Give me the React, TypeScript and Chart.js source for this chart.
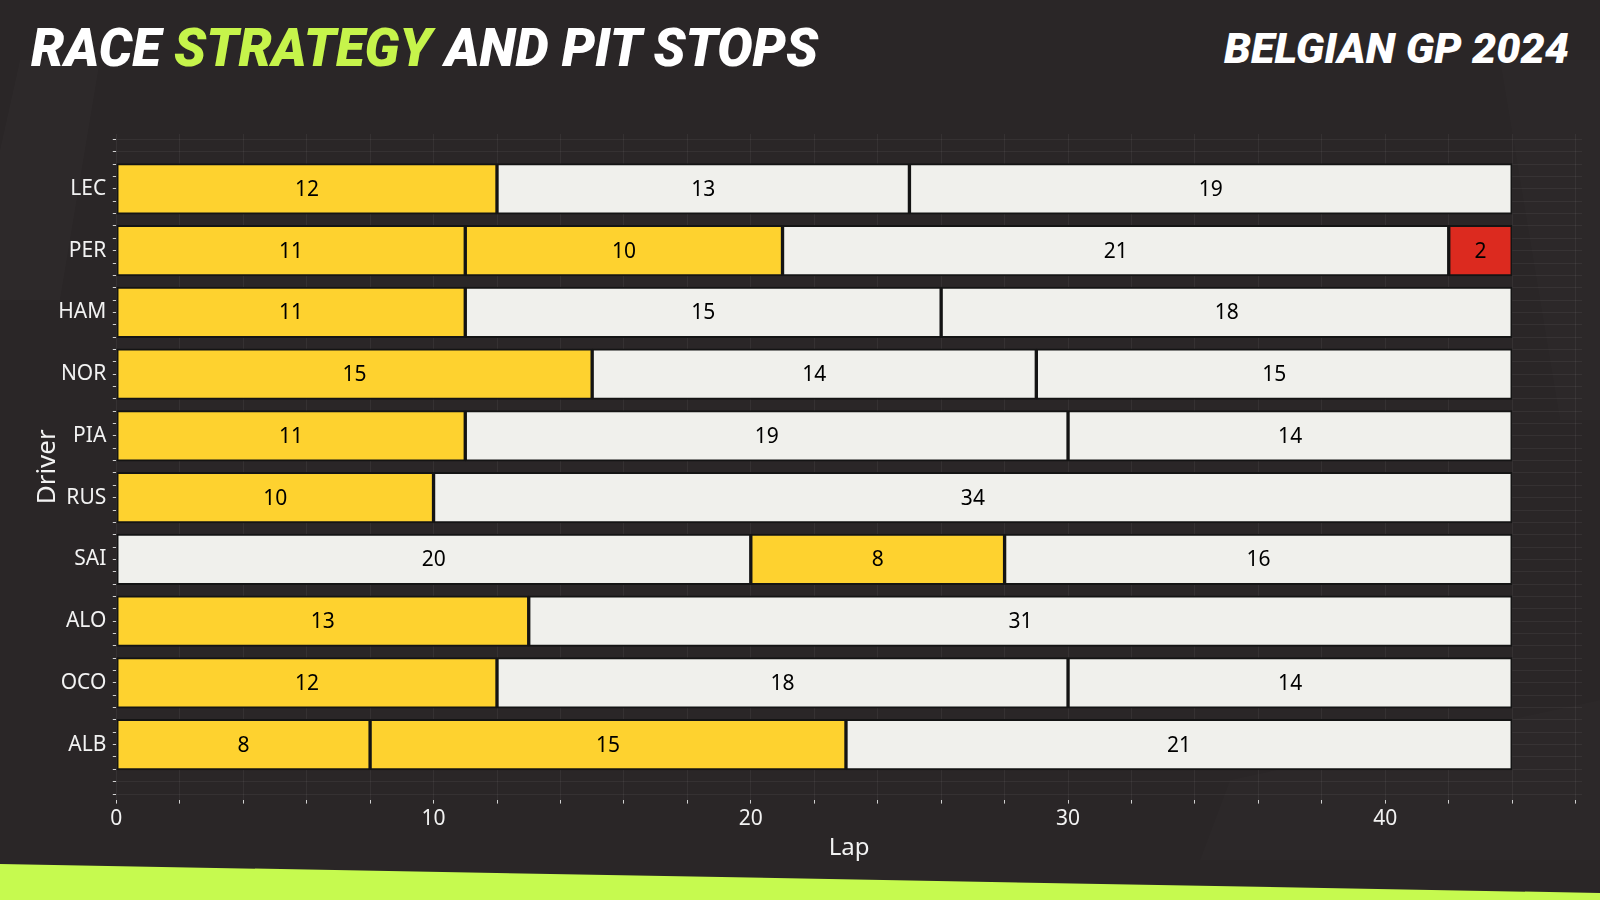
import React, { useEffect, useRef } from "react";
import { Chart, registerables } from "chart.js";

Chart.register(...registerables);

// ---- data ----
const drivers = ["LEC", "PER", "HAM", "NOR", "PIA", "RUS", "SAI", "ALO", "OCO", "ALB"];
const stint1Laps = [12, 11, 11, 15, 11, 10, 20, 13, 12, 8];
const stint1Tyre = ["MEDIUM", "MEDIUM", "MEDIUM", "MEDIUM", "MEDIUM", "MEDIUM", "HARD", "MEDIUM", "MEDIUM", "MEDIUM"];
const stint2Laps = [13, 10, 15, 14, 19, 34, 8, 31, 18, 15];
const stint2Tyre = ["HARD", "MEDIUM", "HARD", "HARD", "HARD", "HARD", "MEDIUM", "HARD", "HARD", "MEDIUM"];
const stint3Laps = [19, 21, 18, 15, 14, null, 16, null, 14, 21];
const stint3Tyre = ["HARD", "HARD", "HARD", "HARD", "HARD", null, "HARD", null, "HARD", "HARD"];
const stint4Laps = [null, 2, null, null, null, null, null, null, null, null];
const stint4Tyre = [null, "SOFT", null, null, null, null, null, null, null, null];
const xMajorTicks = [0, 10, 20, 30, 40];
const yMinorStep = 0.2;

const tyreColors: Record<string, string> = {
  SOFT: "#dc2a1f",
  MEDIUM: "#fed22f",
  HARD: "#f0f0ec",
};

const stints = [
  { laps: stint1Laps, tyres: stint1Tyre },
  { laps: stint2Laps, tyres: stint2Tyre },
  { laps: stint3Laps, tyres: stint3Tyre },
  { laps: stint4Laps, tyres: stint4Tyre },
];

const labelPlugin = {
  id: "stintLabels",
  afterDatasetsDraw(chart: any) {
    const ctx = chart.ctx;
    ctx.save();
    ctx.font = '21px "Noto Sans"';
    ctx.fillStyle = "#000";
    ctx.textAlign = "center";
    ctx.textBaseline = "middle";
    chart.data.datasets.forEach((ds: any, di: number) => {
      const meta = chart.getDatasetMeta(di);
      meta.data.forEach((el: any, j: number) => {
        const raw = ds.data[j];
        if (!raw || raw.x == null) return;
        const p = el.getProps(["x", "y", "base"], true);
        ctx.fillText(String(raw.x), (p.x + p.base) / 2, p.y + 1);
      });
    });
    ctx.restore();
  },
};

export default function App() {
  const canvasRef = useRef<HTMLCanvasElement | null>(null);

  useEffect(() => {
    if (!canvasRef.current) return;
    const datasets = stints.map((s, k) => ({
      label: `Stint ${k + 1}`,
      data: drivers.map((_, i) => ({ x: s.laps[i], y: i, tyre: s.tyres[i] })),
      backgroundColor: (c: any) => (c.raw && c.raw.tyre ? tyreColors[c.raw.tyre] : "rgba(0,0,0,0)"),
      borderColor: "#141414",
      borderWidth: 2,
      borderSkipped: false,
      barThickness: "flex",
      barPercentage: 0.82,
      categoryPercentage: 1,
    }));

    const tickColor = "#d0d0d0";
    const gridColor = "rgba(255,255,255,0.055)";

    const chart = new Chart(canvasRef.current, {
      type: "bar",
      data: { datasets: datasets as any },
      plugins: [labelPlugin],
      options: {
        animation: false,
        responsive: false,
        devicePixelRatio: 1,
        indexAxis: "y",
        layout: { padding: { top: 134, right: 18, bottom: 0, left: 0 } },
        plugins: { legend: { display: false }, tooltip: { enabled: false } },
        scales: {
          x: {
            type: "linear",
            stacked: true,
            min: 0,
            max: 46.2,
            bounds: "data",
            offset: false,
            border: { display: false },
            grid: { color: gridColor, tickColor: tickColor, tickLength: 4, lineWidth: 1, offset: false },
            ticks: {
              stepSize: 2,
              includeBounds: false,
              autoSkip: false,
              maxRotation: 0,
              padding: 3,
              color: "#f2f2f2",
              font: { family: "Noto Sans", size: 21 },
              callback: (v: any) => (xMajorTicks.includes(Number(v)) ? String(v) : ""),
            },
            title: {
              display: true,
              text: "Lap",
              color: "#f2f2f2",
              font: { family: "Noto Sans", size: 24 },
              padding: { top: 0, bottom: 37 },
            },
            afterFit: (scale: any) => {
              scale.height = 100.4;
            },
          },
          y: {
            type: "linear",
            stacked: true,
            reverse: true,
            min: -0.89,
            max: 9.89,
            bounds: "data",
            offset: false,
            position: "left",
            border: { display: false },
            grid: { color: gridColor, tickColor: tickColor, tickLength: 3.5, lineWidth: 1, offset: false },
            afterBuildTicks: (scale: any) => {
              const ticks: any[] = [];
              const k0 = Math.ceil(scale.min / yMinorStep - 1e-9);
              const k1 = Math.floor(scale.max / yMinorStep + 1e-9);
              for (let k = k0; k <= k1; k++) ticks.push({ value: Math.round(k * yMinorStep * 1000) / 1000 });
              scale.ticks = ticks;
            },
            ticks: {
              autoSkip: false,
              padding: 6.5,
              color: "#f2f2f2",
              font: { family: "Noto Sans", size: 21 },
              callback: (v: any) => {
                const r = Math.round(Number(v));
                return Math.abs(Number(v) - r) < 1e-6 && r >= 0 && r < drivers.length ? drivers[r] : "";
              },
            },
            title: {
              display: true,
              text: "Driver",
              color: "#f2f2f2",
              font: { family: "Noto Sans", size: 26 },
              padding: { top: 32, bottom: 0 },
            },
            afterFit: (scale: any) => {
              scale.width = 116.3;
            },
          },
        },
      } as any,
    });
    return () => chart.destroy();
  }, []);

  return (
    <div
      style={{
        position: "fixed",
        left: 0,
        top: 0,
        width: 1600,
        height: 900,
        background: "#2a2627",
        overflow: "hidden",
      }}
    >
      <svg
        width={1600}
        height={900}
        style={{ position: "absolute", left: 0, top: 0 }}
        xmlns="http://www.w3.org/2000/svg"
      >
        <polygon points="20,60 100,60 60,300 0,300 0,150" fill="rgba(255,255,255,0.015)" />
        <polygon points="1500,60 1600,60 1600,420 1560,420" fill="rgba(255,255,255,0.012)" />
        <polygon points="1230,780 1600,700 1600,860 1200,860" fill="rgba(255,255,255,0.012)" />
        <polygon points="0,864 1600,893 1600,900 0,900" fill="#c6fa4f" />
        <text
          x={31}
          y={66}
          fontFamily="Roboto, 'Open Sans', sans-serif"
          fontStyle="italic"
          fontWeight={900}
          fontSize={53}
          textLength={787}
          lengthAdjust="spacingAndGlyphs"
          fill="#ffffff"
        >
          <tspan>RACE </tspan>
          <tspan fill="#c6f44b">STRATEGY</tspan>
          <tspan> AND PIT STOPS</tspan>
        </text>
        <text
          x={1224}
          y={63}
          fontFamily="Roboto, 'Open Sans', sans-serif"
          fontStyle="italic"
          fontWeight={900}
          fontSize={43}
          textLength={345}
          lengthAdjust="spacingAndGlyphs"
          fill="#ffffff"
        >
          BELGIAN GP 2024
        </text>
      </svg>
      <canvas
        ref={canvasRef}
        width={1600}
        height={900}
        style={{ position: "absolute", left: 0, top: 0, width: 1600, height: 900 }}
      />
    </div>
  );
}
